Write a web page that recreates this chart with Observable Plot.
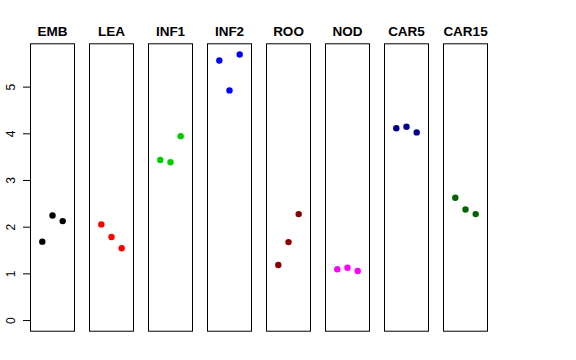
<!DOCTYPE html>
<html>
<head>
<meta charset="utf-8">
<script src="https://cdn.jsdelivr.net/npm/d3@7"></script>
<script src="https://cdn.jsdelivr.net/npm/@observablehq/plot@0.6"></script>
<style>
  html, body { margin: 0; padding: 0; background: #fff; }
  svg { display: block; }
</style>
</head>
<body>
<div id="chart"></div>
<script>
const categories = ["EMB", "LEA", "INF1", "INF2", "ROO", "NOD", "CAR5", "CAR15"];
const colors = ["#000000", "#FF0000", "#00CD00", "#0000FF", "#8B0000", "#FF00FF", "#00008B", "#006400"];
const replicate = [1, 2, 3];
const EMB = [1.69, 2.25, 2.13];
const LEA = [2.06, 1.79, 1.55];
const INF1 = [3.44, 3.39, 3.95];
const INF2 = [5.57, 4.93, 5.70];
const ROO = [1.19, 1.68, 2.28];
const NOD = [1.10, 1.13, 1.06];
const CAR5 = [4.12, 4.15, 4.03];
const CAR15 = [2.63, 2.38, 2.28];
const yTicks = [0, 1, 2, 3, 4, 5];

const series = [EMB, LEA, INF1, INF2, ROO, NOD, CAR5, CAR15];
const data = categories.flatMap((c, i) =>
  series[i].map((v, j) => ({category: c, rep: replicate[j], value: v}))
);

const chart = Plot.plot({
  width: 576,
  height: 360,
  marginLeft: 28.7,
  marginRight: 88,
  marginTop: 43.3,
  marginBottom: 29.3,
  style: {fontFamily: "'Liberation Sans', Arial, Helvetica, sans-serif", background: "#fff"},
  fx: {domain: categories, paddingInner: 0.246, paddingOuter: 0, label: null},
  x: {domain: [-0.16, 4.16], axis: null},
  y: {domain: [-0.228, 5.928], label: null},
  color: {domain: categories, range: colors},
  marks: [
    Plot.frame({stroke: "#000", strokeWidth: 1}),
    Plot.axisFx({anchor: "top", tickSize: 0, tickPadding: 8, fontSize: 13.5, fontWeight: "bold", label: null, fill: "#000"}),
    Plot.axisY({ticks: yTicks, tickSize: 7, tickPadding: 9, tickRotate: -90, textAnchor: "middle", lineAnchor: "bottom", fontSize: 12, label: null, tickFormat: d => String(d), stroke: "#000", fill: "#000"}),
    Plot.dot(data, {fx: "category", x: "rep", y: "value", fill: "category", r: 3.2, stroke: null})
  ]
});
document.getElementById("chart").appendChild(chart);
</script>
</body>
</html>
